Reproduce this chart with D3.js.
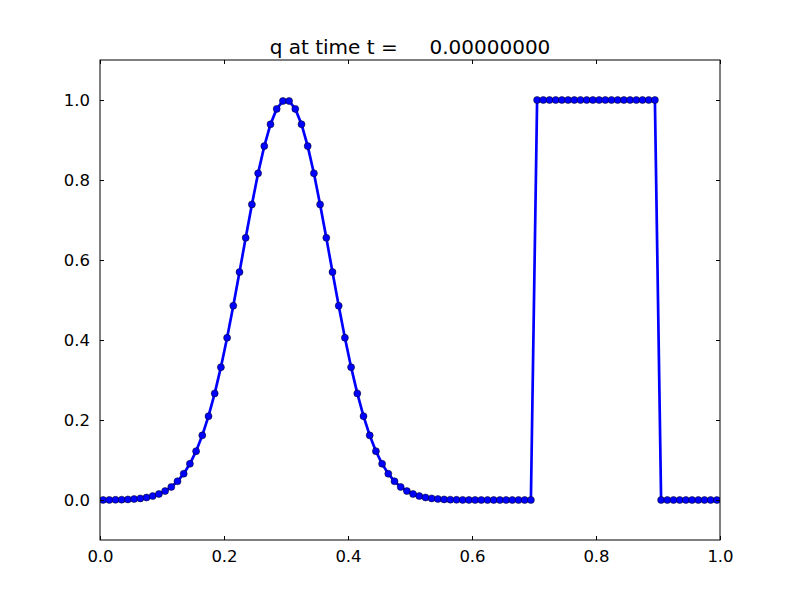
<!DOCTYPE html>
<html>
<head>
<meta charset="utf-8">
<script src="https://cdn.jsdelivr.net/npm/d3@7"></script>
<style>
html,body{margin:0;padding:0;background:#fff;}
text{font-family:"DejaVu Sans",sans-serif;}
</style>
</head>
<body>
<svg id="chart" width="800" height="600"></svg>
<script>
const titleText = "q at time t =     0.00000000";
const xCells = d3.range(100).map(i => +(0.005 + 0.01 * i).toFixed(3));
const gaussLeft = [0.0002,0.0003,0.0005,0.0009,0.0015,0.0025,0.0040,0.0063,0.0098,0.0150,
  0.0223,0.0326,0.0468,0.0657,0.0905,0.1221,0.1616,0.2096,0.2665,0.3321,
  0.4056,0.4855,0.5698,0.6554,0.7390,0.8167,0.8847,0.9394,0.9778,0.9975];
const gaussRight = [0.9975,0.9778,0.9394,0.8847,0.8167,0.7390,0.6554,0.5698,0.4855,0.4056,
  0.3321,0.2665,0.2096,0.1616,0.1221,0.0905,0.0657,0.0468,0.0326,0.0223,
  0.0150,0.0098,0.0063,0.0040,0.0025,0.0015,0.0009,0.0005,0.0003,0.0002];
const flatZero = [0.0001,0,0,0,0,0,0,0,0,0];
const squareTop = [1,1,1,1,1,1,1,1,1,1,1,1,1,1,1,1,1,1,1,1];
const tailZero = [0,0,0,0,0,0,0,0,0,0];
const qValues = [].concat(gaussLeft, gaussRight, flatZero, squareTop, tailZero);
const xTicks = [0.0,0.2,0.4,0.6,0.8,1.0];
const yTicks = [0.0,0.2,0.4,0.6,0.8,1.0];

const svg = d3.select("#chart");
const mL = 100, mR = 720, mT = 60, mB = 540;
const x = d3.scaleLinear().domain([0,1]).range([mL,mR]);
const y = d3.scaleLinear().domain([-0.1,1.1]).range([mB,mT]);
const data = xCells.map((d,i)=>({x:d,q:qValues[i]}));

svg.append("defs").append("clipPath").attr("id","clip")
  .append("rect").attr("x",mL).attr("y",mT).attr("width",mR-mL).attr("height",mB-mT);

const plot = svg.append("g").attr("clip-path","url(#clip)");
plot.append("path").datum(data)
  .attr("fill","none").attr("stroke","#0000ff").attr("stroke-width",2.7)
  .attr("stroke-linejoin","round")
  .attr("d", d3.line().x(d=>x(d.x)).y(d=>y(d.q)));
plot.selectAll("circle").data(data).enter().append("circle")
  .attr("cx",d=>x(d.x)).attr("cy",d=>y(d.q)).attr("r",3.5)
  .attr("fill","#0000ff").attr("stroke","#000").attr("stroke-width",0.5);

const fmt = d3.format(".1f");
const tickLen = 4;
const axB = svg.append("g").attr("transform",`translate(0,${mB})`)
  .call(d3.axisBottom(x).tickValues(xTicks).tickFormat(fmt).tickSizeInner(-tickLen).tickSizeOuter(0).tickPadding(10));
const axT = svg.append("g").attr("transform",`translate(0,${mT})`)
  .call(d3.axisTop(x).tickValues(xTicks).tickFormat("").tickSizeInner(-tickLen).tickSizeOuter(0));
const axL = svg.append("g").attr("transform",`translate(${mL},0)`)
  .call(d3.axisLeft(y).tickValues(yTicks).tickFormat(fmt).tickSizeInner(-tickLen).tickSizeOuter(0).tickPadding(10));
const axR = svg.append("g").attr("transform",`translate(${mR},0)`)
  .call(d3.axisRight(y).tickValues(yTicks).tickFormat("").tickSizeInner(-tickLen).tickSizeOuter(0));
[axB,axT,axL,axR].forEach(a=>{
  a.select(".domain").remove();
  a.selectAll(".tick line").attr("stroke","#000").attr("stroke-width",1);
  a.selectAll("text").attr("font-size","16.5px").attr("fill","#000").attr("font-family","DejaVu Sans, sans-serif");
});
svg.append("rect").attr("x",mL).attr("y",mT).attr("width",mR-mL).attr("height",mB-mT)
  .attr("fill","none").attr("stroke","#000").attr("stroke-width",1);

svg.append("text").attr("x",(mL+mR)/2).attr("y",mT-6)
  .attr("text-anchor","middle").attr("font-size","20px").attr("fill","#000")
  .style("white-space","pre").attr("xml:space","preserve")
  .text(titleText);
</script>
</body>
</html>
